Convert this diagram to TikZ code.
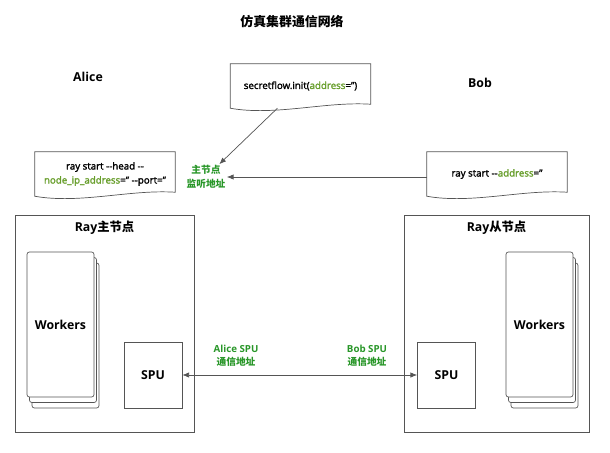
\documentclass[tikz,border=0pt]{standalone}
\usepackage{fontspec}
\setmainfont{Open Sans}
\newfontfamily\cjk{Noto Sans CJK SC}
\newfontfamily\codefont{Open Sans}[FakeBold=2]
\usepackage{xcolor}
\usetikzlibrary{arrows.meta,positioning,calc,shadows}
\definecolor{codegreen}{RGB}{104,158,44}
\definecolor{notegreen}{RGB}{40,150,40}
\definecolor{linegray}{RGB}{85,85,85}
\newcommand{\docoutline}[1]{%
  \draw[linegray, line width=0.6pt] (#1.north west) -- (#1.north east) -- ($(#1.south east)+(0,-4)$)
    .. controls ($(#1.south east)+(-45,-7)$) and ($(#1.south west)+(45,8)$) .. (#1.south west) -- cycle;}

\begin{document}
\begin{tikzpicture}[
    x=0.03cm, y=-0.03cm,
    heading/.style={font=\bfseries\fontsize{10.5}{12}\selectfont},
    code/.style={font=\codefont\fontsize{8.3}{12}\selectfont, align=center},
    note/.style={font=\bfseries\fontsize{8.3}{11.5}\selectfont, text=notegreen, align=center, inner sep=1pt},
    doc/.style={code, minimum width=4.2cm, minimum height=1.32cm, inner sep=0pt},
    frame/.style={draw=linegray, line width=0.6pt, minimum height=6.51cm},
    spu/.style={draw=linegray, line width=0.6pt, minimum width=1.74cm, minimum height=1.98cm, font=\bfseries\fontsize{10.5}{12}\selectfont},
    workers/.style={draw=linegray, fill=white, line width=0.6pt, rounded corners=2pt, minimum width=2.01cm, minimum height=4.35cm,
        general shadow={shadow xshift=0.15cm, shadow yshift=-0.33cm, draw=linegray, fill=white, line width=0.6pt},
        general shadow={shadow xshift=0.075cm, shadow yshift=-0.165cm, draw=linegray, fill=white, line width=0.6pt},
        font=\bfseries\fontsize{10.5}{12}\selectfont},
    arrow/.style={-{Latex[length=2mm, width=1.6mm]}, linegray, line width=0.6pt},
    darrow/.style={{Latex[length=2mm, width=1.6mm]}-{Latex[length=2mm, width=1.6mm]}, linegray, line width=0.6pt}
]
    \useasboundingbox (0,0) rectangle (610,453);

    \node (title) [heading, font=\bfseries\fontsize{11}{12}\selectfont] at (292,22) {\cjk 仿真集群通信网络};
    \node (alice) [heading] at (88,77) {Alice};
    \node (bob) [heading] at (480,83) {Bob};

    \node (sf) [doc] at (300.5,86) {secretflow.init(\textcolor{codegreen}{address}=’’)};
    \node (head) [doc] at (105,174) {ray start -{}-head -{}-\\\textcolor{codegreen}{node\_ip\_address}=’’ -{}-port=’’};
    \node (worker) [doc] at (497,174) {ray start -{}-\textcolor{codegreen}{address}=’’};
    \docoutline{sf}
    \docoutline{head}
    \docoutline{worker}
    \node (listen) [note] at (206,177) {\cjk 主节点\\\cjk 监听地址};

    \draw [arrow] (sf) -- (listen);
    \draw [arrow] (listen.east -| worker.west) -- (listen.east);

    \node (lframe) [frame, minimum width=5.37cm] at (104.5,323.5) {};
    \node (rframe) [frame, minimum width=5.55cm] at (496.5,323.5) {};
    \node [heading] at (104.5,228) {Ray{\cjk 主节点}};
    \node [heading] at (496.5,228) {Ray{\cjk 从节点}};

    \node (lwork) [workers] at (60.5,324.5) {Workers};
    \node (rwork) [workers] at (539.5,324.5) {Workers};
    \node (lspu) [spu] at (153,375) {SPU};
    \node (rspu) [spu] at (446.5,375) {SPU};

    \draw [darrow] (lspu) -- (rspu);
    \node (aspu) [note] at (236,356) {Alice SPU\\\cjk 通信地址};
    \node (bspu) [note] at (367,356) {Bob SPU\\\cjk 通信地址};
\end{tikzpicture}
\end{document}
